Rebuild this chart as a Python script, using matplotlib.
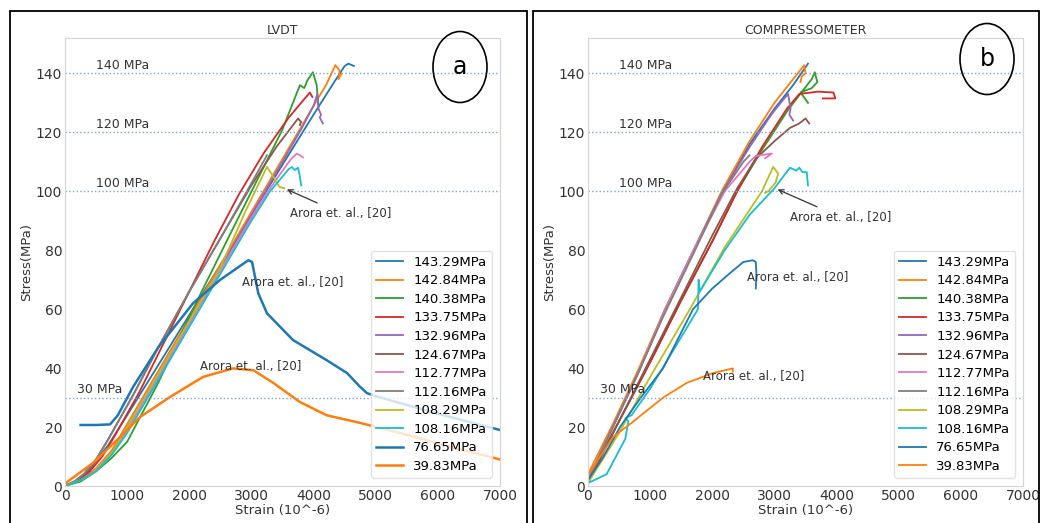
import matplotlib.pyplot as plt
from matplotlib.patches import Rectangle, Ellipse

labels = ["143.29MPa", "142.84MPa", "140.38MPa", "133.75MPa", "132.96MPa", "124.67MPa",
          "112.77MPa", "112.16MPa", "108.29MPa", "108.16MPa", "76.65MPa", "39.83MPa"]
colors = ["C0", "C1", "C2", "C3", "C4", "C5", "C6", "C7", "C8", "C9", "C0", "C1"]

# LVDT panel (strain in 10^-6, stress in MPa), one list per specimen
lvdt_strain = [
    [0, 300, 700, 1000, 1500, 2000, 2500, 3000, 3500, 4000, 4300, 4500, 4560, 4650],
    [0, 250, 500, 750, 1000, 1500, 2000, 2500, 3000, 3500, 4000, 4200, 4350, 4420, 4400, 4450],
    [0, 250, 500, 750, 1000, 1500, 2060, 2600, 3090, 3500, 3780, 3850, 3900, 3990, 4050, 4070, 4080],
    [0, 200, 400, 600, 800, 1200, 1600, 2000, 2400, 2800, 3200, 3600, 3940, 3980],
    [0, 250, 500, 750, 1000, 1500, 2000, 2500, 3000, 3500, 3800, 4000, 4060, 4080, 4120, 4100, 4150],
    [0, 150, 300, 500, 700, 1100, 1500, 2000, 2500, 3000, 3400, 3750, 3800, 3780],
    [0, 250, 500, 750, 1000, 1500, 2000, 2500, 3000, 3300, 3620, 3730, 3830],
    [0, 150, 300, 500, 700, 1100, 1500, 2000, 2500, 2900, 3250],
    [0, 250, 500, 750, 1000, 1500, 2000, 2500, 2900, 3250, 3350, 3450, 3530],
    [0, 250, 500, 750, 1000, 1500, 2000, 2500, 3000, 3300, 3600, 3650, 3700, 3750, 3780, 3800],
    [250, 500, 725, 850, 1095, 1500, 2060, 2500, 2950, 3010, 3110, 3250, 3670, 4210,
     4540, 4750, 4860, 5000, 6000, 7000],
    [0, 30, 450, 885, 1207, 1690, 2220, 2700, 3030, 3350, 3780, 4210, 4750, 5390, 6200, 7000],
]
lvdt_stress = [
    [0, 3, 14, 24, 41, 58, 75, 92, 109, 126, 136, 142.5, 143.3, 142.5],
    [0, 2, 6, 12, 21, 39, 57, 75, 93, 111, 129, 136, 142.8, 141, 138, 140],
    [0, 1.5, 5, 9.5, 15, 35, 60, 83, 103.7, 121, 136, 135, 137.6, 140.4, 136, 131, 129],
    [0, 2, 5, 10, 17, 32, 49, 66, 83, 99, 113, 125, 133.5, 132],
    [0, 2, 5, 11, 20, 38, 56, 74, 92, 110, 121, 129, 133, 128, 126, 125, 123],
    [0, 1.5, 4, 9, 16, 31, 47, 66, 84, 102, 115, 124.7, 123.5, 122.5],
    [0, 2, 5, 11, 19, 37, 55, 73, 91, 101, 110.5, 112.8, 111.5],
    [0, 1.5, 4, 9, 16, 31, 47, 66, 84, 99, 112.2],
    [0, 2, 5, 11, 20, 38, 56, 74, 93, 108.3, 105, 101.5, 101],
    [0, 2, 5, 10.5, 18, 36, 54, 72, 90, 100, 107.5, 108.2, 107.2, 108, 105, 102],
    [20.7, 20.7, 20.9, 24, 33.6, 47, 62, 70, 76.6, 76, 65.4, 58.6, 49.5, 42.7,
     38.3, 33.6, 31.5, 30.5, 24.5, 19],
    [0, 1.3, 7.8, 16.6, 23.4, 30.2, 37, 39.9, 39.3, 35, 28.5, 24, 21.4, 18, 13.3, 9],
]

# Compressometer panel
comp_strain = [
    [0, 400, 800, 1240, 1700, 2170, 2600, 3000, 3300, 3540],
    [0, 400, 800, 1240, 1700, 2150, 2600, 3000, 3300, 3480, 3500, 3440, 3420],
    [0, 500, 1000, 1500, 2000, 2400, 2800, 3200, 3450, 3600, 3650, 3690, 3600, 3420, 3540],
    [0, 500, 1000, 1500, 2000, 2400, 2800, 3200, 3400, 3700, 3950, 3980, 3780],
    [0, 400, 800, 1250, 1700, 2170, 2600, 2950, 3100, 3220, 3260, 3240, 3300],
    [0, 500, 1000, 1500, 2000, 2400, 2700, 3000, 3250, 3400, 3500, 3560],
    [0, 400, 800, 1250, 1700, 2200, 2600, 2700, 2960, 2850],
    [0, 400, 800, 1200, 1700, 2150, 2500, 2600],
    [0, 500, 1000, 1640, 2200, 2800, 2980, 3060, 3020, 2900, 2850],
    [0, 300, 600, 650, 600, 700, 1000, 1400, 1770, 1780, 1800, 2200, 2600, 3000, 3250,
     3350, 3400, 3450, 3520, 3540],
    [0, 250, 515, 850, 1210, 1450, 1690, 2000, 2300, 2500, 2650, 2700, 2710, 2700],
    [0, 400, 675, 1210, 1590, 2010, 2250, 2330, 2330],
]
comp_stress = [
    [2, 20, 38, 60, 80, 100, 116, 128, 136, 143.3],
    [4, 21, 39, 60, 80, 100, 117, 130, 138, 142.8, 140, 139, 137],
    [2, 22, 42, 63, 83, 100, 114, 127, 134, 138, 140.4, 137, 135, 133.5, 130],
    [1, 22, 42, 63, 83, 100, 115, 128, 133, 133.8, 133.5, 131.5, 131.5],
    [2, 20, 38, 60, 80, 100, 115, 126, 130, 133, 128, 126, 124],
    [2, 22, 43, 64, 85, 101, 111, 117, 121.5, 123, 124.7, 123],
    [2, 20, 38, 60, 80, 100, 110, 112, 112.8, 111.2],
    [2, 20, 38, 57, 79, 99, 110, 112.2],
    [1, 18, 37, 60, 81, 100, 108.3, 106, 103, 100, 99.4],
    [1, 4, 16, 22, 23, 24, 33, 47, 60, 70, 66, 80, 92, 101, 108,
     107, 108, 106.5, 106.5, 102],
    [2, 10, 20, 30, 40, 50, 60, 67, 72.5, 76, 76.6, 76, 72, 67],
    [3.7, 16.6, 21, 30, 35, 38.3, 39.5, 39.9, 38.8],
]

ref_lines = [140, 120, 100, 30]
ref_text = ["140 MPa", "120 MPa", "100 MPa", "30 MPa"]
ref_text_x = [500, 500, 500, 190]
ref_text_y = [140.5, 120.5, 100.5, 30.5]


def draw_panel(ax, strain, stress, title, notes, arrow):
    for i in range(len(labels)):
        lw = 1.8 if (i >= 10 and title == "LVDT") else 1.3
        ax.plot(strain[i], stress[i], color=colors[i], lw=lw, label=labels[i])
    for y in ref_lines:
        ax.axhline(y, color="#7aa6c8", lw=1.0, ls=":")
    for t, x, y in zip(ref_text, ref_text_x, ref_text_y):
        ax.text(x, y, t, fontsize=9, color="#333333", va="bottom")
    # olive curve note with arrow
    ax.annotate("Arora et. al., [20]", xy=arrow[0], xytext=arrow[1], fontsize=8.5,
                color="#333333", va="center",
                arrowprops=dict(arrowstyle="->", color="#333333", lw=0.9))
    for x, y in notes:
        ax.text(x, y, "Arora et. al., [20]", fontsize=8.5, color="#333333", va="center")

    ax.set_xlim(0, 7000)
    ax.set_ylim(0, 152)
    ax.set_xticks(range(0, 7001, 1000))
    ax.set_yticks(range(0, 141, 20))
    ax.tick_params(length=0, labelsize=10, pad=2, colors="#333333")
    for s in ax.spines.values():
        s.set_color("#d5d5d5")
    ax.set_title(title, fontsize=9, pad=3, color="#333333")
    ax.set_xlabel("Strain (10^-6)", fontsize=9.5, labelpad=1, color="#333333")
    ax.set_ylabel("Stress(MPa)", fontsize=9.5, labelpad=2, color="#333333")
    ax.legend(loc="lower right", fontsize=9.5, edgecolor="#dddddd", borderaxespad=0.6,
              labelspacing=0.42)


fig = plt.figure(figsize=(10.41, 5.23), dpi=100)
W, H = 1041, 523
ax1 = fig.add_axes([65 / W, 1 - 486 / H, 435 / W, 448 / H])
ax2 = fig.add_axes([588 / W, 1 - 486 / H, 435 / W, 448 / H])

draw_panel(ax1, lvdt_strain, lvdt_stress, "LVDT",
           [(2850, 69), (2170, 40.4)], ((3530, 101), (3620, 92.5)))
draw_panel(ax2, comp_strain, comp_stress, "COMPRESSOMETER",
           [(2560, 70.9), (1850, 37)], ((3010, 101), (3250, 91.2)))

# panel frames
fig.patches.append(Rectangle((10 / W, -0.05), 517 / W, 1.05 - 11 / H, fill=False,
                             ec="black", lw=1.3, transform=fig.transFigure, figure=fig))
fig.patches.append(Rectangle((533 / W, -0.05), 506 / W, 1.05 - 11 / H, fill=False,
                             ec="black", lw=1.3, transform=fig.transFigure, figure=fig))

# circled panel letters
for cx, cy, letter in [(460, 67, "a"), (987, 59, "b")]:
    fig.patches.append(Ellipse((cx / W, 1 - cy / H), 54 / W, 71 / H, fill=False,
                               ec="black", lw=1.2, transform=fig.transFigure, figure=fig))
    fig.text(cx / W, 1 - cy / H, letter, fontsize=17, ha="center", va="center")

fig.savefig("out.png", dpi=100)
